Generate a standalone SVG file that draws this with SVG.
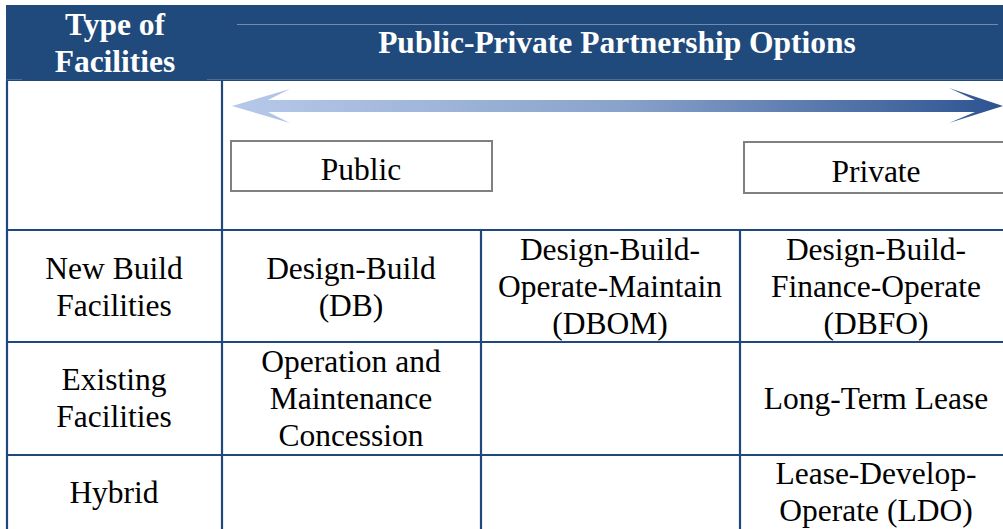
<svg xmlns="http://www.w3.org/2000/svg" width="1003" height="529" viewBox="0 0 1003 529">
<style>
text{font-family:'Liberation Serif',Tinos,'Times New Roman',Times,'DejaVu Serif','Noto Serif',serif}
.t{font-size:31.5px;fill:#000;text-anchor:middle}
.h{font-size:31.5px;font-weight:bold;fill:#fff;text-anchor:middle}
.g{stroke:#1f497d;stroke-width:2.2;fill:none}
.box{fill:#fff;stroke:#808080;stroke-width:2}
</style>
<defs>
<linearGradient id="ag" x1="232" y1="0" x2="1003" y2="0" gradientUnits="userSpaceOnUse">
<stop offset="0" stop-color="#b6c9e9"/>
<stop offset="0.5" stop-color="#8aa3cb"/>
<stop offset="1" stop-color="#2c5391"/>
</linearGradient>
</defs>
<rect x="0" y="0" width="1003" height="529" fill="#fff"/>
<g id="header">
<rect x="6" y="5" width="997" height="76" fill="#204a7c"/>
<line x1="237" y1="24.5" x2="998" y2="24.5" stroke="#6f8bb1" stroke-width="1"/>
<line x1="7" y1="79.5" x2="22" y2="79.5" stroke="#4d6d97" stroke-width="1"/>
<line x1="207" y1="79.5" x2="1003" y2="79.5" stroke="#4d6d97" stroke-width="1"/>
<text class="h" x="115" y="35">Type of</text>
<text class="h" x="115" y="72">Facilities</text>
<text class="h" x="617" y="53">Public-Private Partnership Options</text>
</g>
<g id="grid">
<line class="g" x1="7" y1="81" x2="7" y2="529"/>
<line class="g" x1="222" y1="81" x2="222" y2="529"/>
<line class="g" x1="481" y1="230" x2="481" y2="529"/>
<line class="g" x1="740" y1="230" x2="740" y2="529"/>
<line class="g" x1="6" y1="230" x2="1003" y2="230"/>
<line class="g" x1="6" y1="342" x2="1003" y2="342"/>
<line class="g" x1="6" y1="455" x2="1003" y2="455"/>
</g>
<g id="connectors">
<polygon fill="url(#ag)" points="232,106 290,89 268,100 975,100 949,88 1003,106 949,123 975,112 268,112 290,123"/>
</g>
<g id="public">
<rect class="box" x="231" y="141" width="261" height="50"/>
<text class="t" x="361" y="180">Public</text>
</g>
<g id="private">
<rect class="box" x="744" y="142" width="270" height="51"/>
<text class="t" x="876" y="182">Private</text>
</g>
<g id="row-new">
<text class="t" x="114" y="279">New Build</text>
<text class="t" x="114" y="316">Facilities</text>
<text class="t" x="351" y="279">Design-Build</text>
<text class="t" x="351" y="316">(DB)</text>
<text class="t" x="610" y="260">Design-Build-</text>
<text class="t" x="610" y="297">Operate-Maintain</text>
<text class="t" x="610" y="334">(DBOM)</text>
<text class="t" x="876" y="260">Design-Build-</text>
<text class="t" x="876" y="297">Finance-Operate</text>
<text class="t" x="876" y="334">(DBFO)</text>
</g>
<g id="row-existing">
<text class="t" x="114" y="390">Existing</text>
<text class="t" x="114" y="427">Facilities</text>
<text class="t" x="351" y="372">Operation and</text>
<text class="t" x="351" y="409">Maintenance</text>
<text class="t" x="351" y="446">Concession</text>
<text class="t" x="876" y="409">Long-Term Lease</text>
</g>
<g id="row-hybrid">
<text class="t" x="114" y="503">Hybrid</text>
<text class="t" x="876" y="484">Lease-Develop-</text>
<text class="t" x="876" y="521">Operate (LDO)</text>
</g>
</svg>
